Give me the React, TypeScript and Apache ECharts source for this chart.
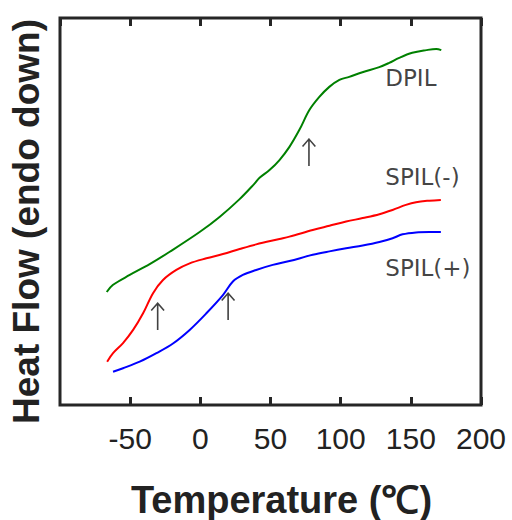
import { useEffect, useRef } from "react";
import * as echarts from "echarts";

// Temperature (°C) and heat-flow (arbitrary units, endo down)
const dpilT = [-66.7, -62.4, -50.3, -36.1, -21.8, -0.5, 13.7, 28.0, 38.6, 42.2, 49.3, 56.4, 63.5, 70.6, 77.7, 84.8, 91.9, 99.1, 106.1, 115.5, 127.5, 134.6, 141.7, 151.0, 161.0, 168.1, 171.7];
const dpilV = [29.2, 31.0, 33.6, 36.4, 39.6, 44.7, 48.6, 53.2, 57.2, 58.7, 60.7, 63.3, 66.7, 71.1, 76.2, 79.6, 82.2, 84.0, 84.8, 86.0, 87.3, 88.4, 89.7, 91.0, 91.7, 92.0, 91.7];

const spilMinusT = [-66.4, -62.2, -55.1, -47.9, -40.8, -33.7, -26.6, -17.1, -7.6, 4.3, 16.1, 28.0, 39.8, 56.4, 63.5, 80.1, 92.0, 103.9, 115.7, 127.6, 137.0, 146.5, 153.7, 163.1, 171.4];
const spilMinusV = [11.2, 13.4, 16.0, 19.4, 23.7, 28.9, 32.3, 34.9, 36.6, 37.9, 39.0, 40.3, 41.5, 42.9, 43.5, 45.2, 46.3, 47.4, 48.3, 49.3, 50.4, 51.7, 52.4, 52.8, 53.0];

const spilPlusT = [-62.2, -55.1, -43.2, -31.3, -19.5, -7.6, 4.3, 16.1, 23.2, 30.3, 39.8, 51.6, 63.5, 80.1, 92.0, 103.9, 115.7, 127.6, 137.0, 144.1, 153.7, 163.1, 171.4];
const spilPlusV = [8.6, 9.5, 11.2, 13.4, 15.9, 19.4, 23.7, 28.4, 31.9, 33.6, 34.9, 36.2, 37.2, 38.8, 39.7, 40.5, 41.2, 42.1, 43.1, 44.1, 44.6, 44.7, 44.7];

// Transition arrows (data coordinates of arrow centre)
const arrowT = [-30.4, 19.8, 77.4];
const arrowV = [23.0, 25.6, 65.4];

// Curve labels (data coordinates of label's left edge)
const curveLabels = ["DPIL", "SPIL(-)", "SPIL(+)"];
const curveLabelT = [131.8, 131.8, 131.8];
const curveLabelV = [84.4, 58.8, 35.5];

const xTicks = [-100, -50, 0, 50, 100, 150, 200];

const zip = (a: number[], b: number[]) => a.map((v, i) => [v, b[i]]);

const AXIS_COLOR = "#262626";
const ARROW_PATH =
  "path://M6.2 1L7.8 1L7.8 28L6.2 28Z M7 0L8 1.2L1.2 9L0 8Z M7 0L14 8L12.8 9L6 1.2Z";

export default function App() {
  const ref = useRef<HTMLDivElement>(null);
  useEffect(() => {
    const chart = echarts.init(ref.current!, null, { renderer: "svg" });
    const lineSeries = (name: string, t: number[], v: number[], color: string) => ({
      type: "line",
      name,
      data: zip(t, v),
      showSymbol: false,
      smooth: 0.35,
      lineStyle: { color, width: 2 },
      silent: true,
    });
    chart.setOption({
      animation: false,
      backgroundColor: "#ffffff",
      grid: {
        left: 60,
        right: 31,
        top: 18,
        bottom: 115,
        show: true,
        borderWidth: 3,
        borderColor: AXIS_COLOR,
        backgroundColor: "transparent",
        containLabel: false,
        outerBoundsMode: "none",
      },
      xAxis: [
        {
          type: "value",
          position: "bottom",
          min: xTicks[0],
          max: xTicks[xTicks.length - 1],
          interval: 50,
          axisLine: { show: false },
          axisTick: { show: true, inside: true, length: 8, lineStyle: { color: AXIS_COLOR, width: 3 } },
          splitLine: { show: false },
          axisLabel: {
            show: true,
            showMinLabel: false,
            margin: 18,
            fontFamily: "Liberation Sans",
            fontSize: 30,
            color: "#222222",
          },
          name: "Temperature (℃)",
          nameLocation: "middle",
          nameGap: 76,
          nameTextStyle: {
            fontFamily: "Liberation Sans",
            fontWeight: "bold",
            fontSize: 38,
            color: "#222222",
            padding: [0, 0, 0, 22],
          },
        },
        {
          type: "value",
          position: "top",
          min: xTicks[0],
          max: xTicks[xTicks.length - 1],
          interval: 50,
          axisLine: { show: false },
          axisTick: { show: true, inside: true, length: 8, lineStyle: { color: AXIS_COLOR, width: 3 } },
          splitLine: { show: false },
          axisLabel: { show: false },
        },
      ],
      yAxis: {
        type: "value",
        min: 0,
        max: 100,
        axisLine: { show: false },
        axisTick: { show: false },
        axisLabel: { show: false },
        splitLine: { show: false },
        name: "Heat Flow (endo down)",
        nameLocation: "middle",
        nameGap: 15,
        nameTextStyle: {
          fontFamily: "Liberation Sans",
          fontWeight: "bold",
          fontSize: 37,
          color: "#222222",
          padding: [0, 20, 0, 0],
        },
      },
      series: [
        lineSeries("DPIL", dpilT, dpilV, "#008000"),
        lineSeries("SPIL(-)", spilMinusT, spilMinusV, "#ff0000"),
        lineSeries("SPIL(+)", spilPlusT, spilPlusV, "#0000ff"),
        {
          type: "scatter",
          name: "arrows",
          data: zip(arrowT, arrowV),
          symbol: ARROW_PATH,
          symbolSize: [14, 28],
          itemStyle: { color: "#111111" },
          silent: true,
        },
        {
          type: "scatter",
          name: "curveLabels",
          data: curveLabelT.map((t, i) => ({ value: [t, curveLabelV[i]], name: curveLabels[i] })),
          symbolSize: 0,
          silent: true,
          label: {
            show: true,
            position: [0, 0],
            align: "left",
            verticalAlign: "middle",
            formatter: (p: any) => p.name,
            fontFamily: "DejaVu Sans",
            fontSize: 23,
            color: "#111111",
          },
        },
      ],
    });
    return () => chart.dispose();
  }, []);
  return <div ref={ref} style={{ position: "fixed", left: 0, top: 0, width: 512, height: 520 }} />;
}
